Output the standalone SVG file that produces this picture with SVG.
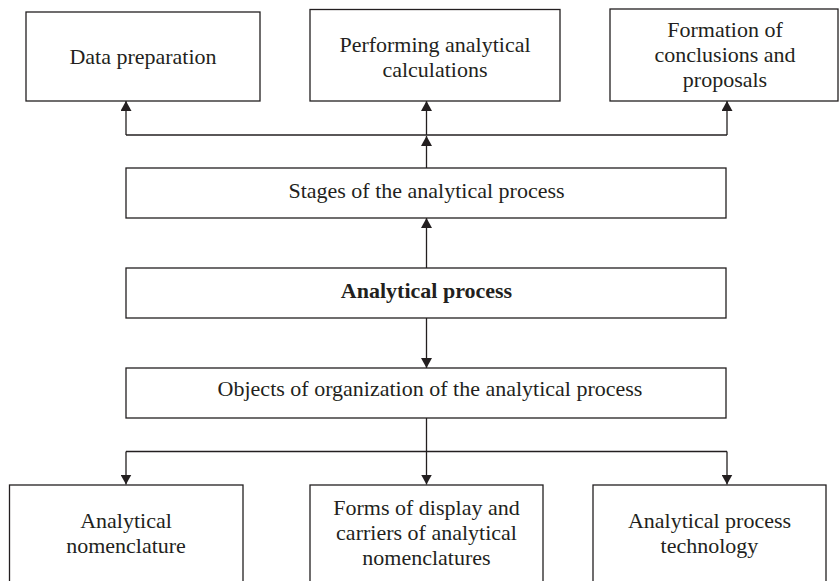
<svg xmlns="http://www.w3.org/2000/svg" width="839" height="581" viewBox="0 0 839 581">
<style>
.box{fill:#fff;stroke:#231f20;stroke-width:1.3}
.t{font-size:22px;fill:#231f20;text-anchor:middle}
.b{font-weight:bold}
.c{fill:none;stroke:#231f20;stroke-width:1.3}
</style>
<defs>
<marker id="ah" viewBox="0 0 10 11" refX="10" refY="5.5" markerWidth="10" markerHeight="11" markerUnits="userSpaceOnUse" orient="auto">
<path d="M0,0 L10,5.5 L0,11 z" fill="#231f20"/>
</marker>
</defs>
<rect width="839" height="581" fill="#fff"/>
<g id="connectors">
<path class="c" d="M126,135 H727"/>
<path class="c" d="M126,135 V101" marker-end="url(#ah)"/>
<path class="c" d="M426.5,135 V101" marker-end="url(#ah)"/>
<path class="c" d="M727,135 V101" marker-end="url(#ah)"/>
<path class="c" d="M426.5,168 V136" marker-end="url(#ah)"/>
<path class="c" d="M426.5,268 V218" marker-end="url(#ah)"/>
<path class="c" d="M426.5,318 V368" marker-end="url(#ah)"/>
<path class="c" d="M426.5,418 V484.5" marker-end="url(#ah)"/>
<path class="c" d="M126,451.5 H727"/>
<path class="c" d="M126,451.5 V484.5" marker-end="url(#ah)"/>
<path class="c" d="M727,451.5 V484.5" marker-end="url(#ah)"/>
</g>
<g font-family="Liberation Serif, Tinos, Times New Roman, DejaVu Serif, serif">
<g id="data-preparation">
<rect class="box" x="26" y="12" width="234" height="89"/>
<text class="t" x="143" y="64">Data preparation</text>
</g>
<g id="performing-calculations">
<rect class="box" x="310" y="9.5" width="250" height="91.5"/>
<text class="t" x="435" y="52">Performing analytical</text>
<text class="t" x="435" y="77">calculations</text>
</g>
<g id="formation-conclusions">
<rect class="box" x="610" y="9" width="228" height="92"/>
<text class="t" x="725" y="37">Formation of</text>
<text class="t" x="725" y="62">conclusions and</text>
<text class="t" x="725" y="87">proposals</text>
</g>
<g id="stages">
<rect class="box" x="126" y="168" width="600" height="50"/>
<text class="t" x="426.5" y="198">Stages of the analytical process</text>
</g>
<g id="analytical-process">
<rect class="box" x="126" y="268" width="600" height="50"/>
<text class="t b" x="426.5" y="298">Analytical process</text>
</g>
<g id="objects">
<rect class="box" x="126" y="368" width="600" height="50"/>
<text class="t" x="430" y="396">Objects of organization of the analytical process</text>
</g>
<g id="analytical-nomenclature">
<rect class="box" x="9.5" y="485" width="233.5" height="110"/>
<text class="t" x="126" y="528">Analytical</text>
<text class="t" x="126" y="553">nomenclature</text>
</g>
<g id="forms-of-display">
<rect class="box" x="310" y="485" width="233" height="110"/>
<text class="t" x="426.5" y="515">Forms of display and</text>
<text class="t" x="426.5" y="540">carriers of analytical</text>
<text class="t" x="426.5" y="565">nomenclatures</text>
</g>
<g id="process-technology">
<rect class="box" x="593" y="485" width="233" height="110"/>
<text class="t" x="709.5" y="528">Analytical process</text>
<text class="t" x="709.5" y="553">technology</text>
</g>
</g>
</svg>
